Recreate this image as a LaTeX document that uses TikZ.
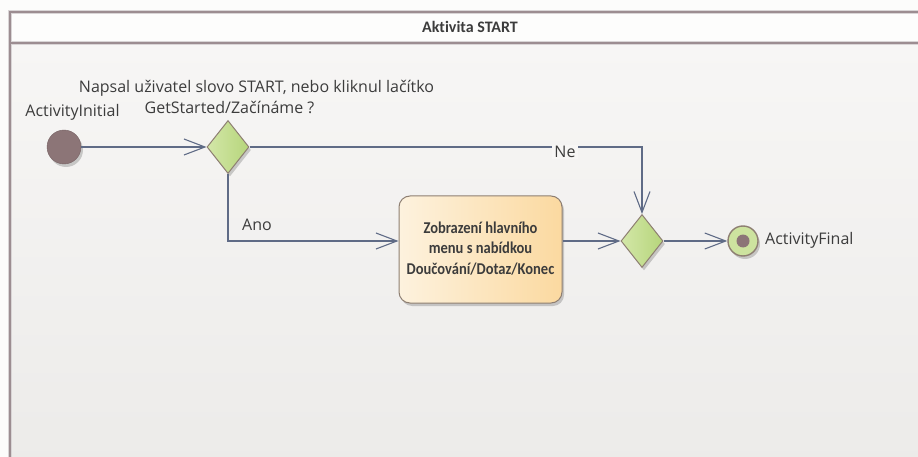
\documentclass[tikz,border=0pt]{standalone}
\usepackage{fontspec}
\usepackage{graphicx}
\setmainfont{Open Sans}
\newfontfamily\boxfont[Ligatures=NoCommon]{Carlito}
\usetikzlibrary{arrows.meta,shapes.geometric,shadows}

\definecolor{pagebg}{HTML}{FCFCFB}
\definecolor{headbg}{HTML}{FDFDFC}
\definecolor{bodytop}{HTML}{F7F6F5}
\definecolor{bodybot}{HTML}{ECEBE9}
\definecolor{framecol}{HTML}{9C8D91}
\definecolor{framelite}{HTML}{D9D5D6}
\definecolor{flowcol}{HTML}{5F6B86}
\definecolor{nodeedge}{HTML}{8E7F72}
\definecolor{startfill}{HTML}{8C7577}
\definecolor{decleft}{HTML}{D3E7A8}
\definecolor{decright}{HTML}{B6D57B}
\definecolor{actleft}{HTML}{FDF2DE}
\definecolor{actright}{HTML}{FBD9A0}
\definecolor{txtcol}{HTML}{3C3C3C}

\tikzset{
  flow/.style={draw=flowcol, line width=1.2pt,
    -{Straight Barb[length=21pt,width=16pt,line width=1.1pt]}},
  nshadow/.style={drop shadow={shadow xshift=2pt, shadow yshift=-3pt,
    fill=black, opacity=0.18}},
  startnode/.style={circle, minimum size=34pt, inner sep=0pt,
    fill=startfill, draw=startfill!85!black, line width=0.4pt, nshadow},
  decision/.style={diamond, minimum width=42pt, minimum height=53pt,
    inner sep=0pt, draw=nodeedge, line width=1pt,
    left color=decleft, right color=decright, nshadow},
  actionbox/.style={rectangle, rounded corners=11pt, minimum width=163pt,
    minimum height=107pt, draw=nodeedge, line width=1pt,
    left color=actleft, right color=actright, nshadow,
    align=center, text=txtcol, font=\boxfont\bfseries\fontsize{16.5}{20.5}\selectfont},
  finalouter/.style={circle, minimum size=30pt, inner sep=0pt,
    draw=nodeedge, line width=1.4pt, fill=decleft!80!decright, nshadow},
  finalinner/.style={circle, minimum size=13pt, inner sep=0pt, fill=startfill},
  lbl/.style={text=txtcol, font=\fontsize{16}{19}\selectfont, inner sep=0pt},
}

\begin{document}
\begin{tikzpicture}[x=1pt, y=-1pt]
  \useasboundingbox (0,0) rectangle (918,457);
  \fill[pagebg] (0,0) rectangle (918,457);

  % activity frame
  \shade[top color=bodytop, bottom color=bodybot] (10,43) rectangle (930,470);
  \fill[headbg] (10,12) rectangle (930,43);
  \draw[framelite, line width=4pt] (10,470) -- (10,12) -- (930,12) (10,43) -- (930,43);
  \draw[framecol, line width=2pt] (10,470) -- (10,12) -- (930,12) (10,43) -- (930,43);
  \node[text=txtcol, font=\boxfont\bfseries\fontsize{16}{18}\selectfont] (title) at (470,26.5) {Akt\kern0pt ivita START};

  % nodes
  \node[startnode] (init) at (64,147) {};
  \node[lbl] (initlbl) at (72.5,112) {ActivityInitial};

  \node[decision] (d1) at (228,147) {};
  \node[lbl] (q1) at (256.5,88) {Napsal uživatel slovo START, nebo kliknul lačítko};
  \node[lbl] (q2) at (229.5,107) {GetStarted/Začínáme ?};

  \node[actionbox] (act) at (480.5,249.5) {\scalebox{0.88}[1]{\begin{tabular}{@{}c@{}}Zobrazení hlavního\\menu s nabídkou\\Doučování/Dotaz/Konec\end{tabular}}};

  \node[decision] (d2) at (642,241) {};

  \node[finalouter] (fin) at (743,241) {};
  \node[finalinner] (fincore) at (fin.center) {};
  \node[lbl, anchor=west] (finlbl) at (765,240) {ActivityFinal};

  % connectors
  \coordinate (actin) at (act.west |- d2);
  \coordinate (actout) at (act.east |- d2);
  \draw[flow] (init) -- (d1.west);
  \draw[flow] (d1.east) -| (d2.north);
  \node[lbl, fill=bodytop, inner xsep=2pt, inner ysep=1pt] (ne) at (565,152) {Ne};
  \draw[flow] (d1.south) |- (actin);
  \node[lbl] (ano) at (257,225) {Ano};
  \draw[flow] (actout) -- (d2.west);
  \draw[flow] (d2.east) -- (fin.west);
\end{tikzpicture}
\end{document}
